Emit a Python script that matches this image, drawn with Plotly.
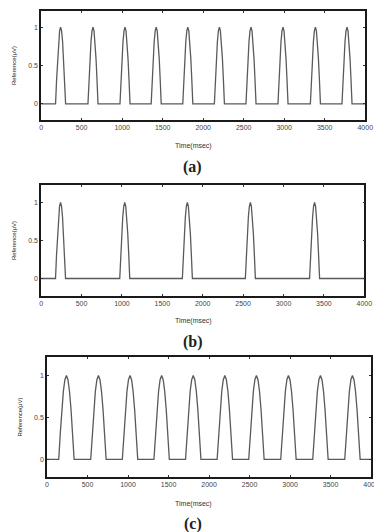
import plotly.graph_objects as go

# ---- data ----
peaks_a = [240, 640, 1035, 1420, 1810, 2200, 2590, 2985, 3385, 3775]
peaks_b = [240, 1035, 1810, 2590, 3385]
peaks_c = [240, 635, 1025, 1415, 1805, 2195, 2585, 2980, 3375, 3770]
half_width_a = 62
half_width_b = 62
half_width_c = 95
profile_offsets = [-1.0, -0.8, -0.6, -0.4, -0.2, 0.0, 0.2, 0.4, 0.6, 0.8, 1.0]
profile_values = [0.0, 0.31, 0.59, 0.81, 0.95, 1.0, 0.95, 0.81, 0.59, 0.31, 0.0]
x_ticks = [0, 500, 1000, 1500, 2000, 2500, 3000, 3500, 4000]
y_ticks = [0, 0.5, 1]
panel_labels = ["(a)", "(b)", "(c)"]
x_title = "Time(msec)"
y_title = "Reference(μV)"


def build(peaks, hw):
    xs, ys = [0], [0]
    for p in peaks:
        for o, v in zip(profile_offsets, profile_values):
            xs.append(p + o * hw)
            ys.append(v)
    xs.append(4000)
    ys.append(0)
    return xs, ys


# page body has an 8px margin, so the figure is drawn 8px in from the window corner
OFF = 8
W, H = 382 - OFF, 532 - OFF


def px(v):
    return v - OFF


panels = [
    dict(peaks=peaks_a, hw=half_width_a, l=40, r=373, t=11, b=120, yr=[-0.21, 1.21],
         xt_y=146, lab_y=167),
    dict(peaks=peaks_b, hw=half_width_b, l=40, r=372, t=185, b=296, yr=[-0.23, 1.23],
         xt_y=321, lab_y=342),
    dict(peaks=peaks_c, hw=half_width_c, l=46, r=379, t=357, b=477, yr=[-0.21, 1.22],
         xt_y=504, lab_y=524),
]

fig = go.Figure()
annotations = []
for i, p in enumerate(panels):
    n = "" if i == 0 else str(i + 1)
    xs, ys = build(p["peaks"], p["hw"])
    fig.add_trace(go.Scatter(x=xs, y=ys, mode="lines",
                             line=dict(color="#5a5a5a", width=1.3),
                             xaxis="x" + n, yaxis="y" + n, showlegend=False,
                             hoverinfo="skip"))
    axis_common = dict(showline=True, linecolor="#1a1a1a", linewidth=1.5, mirror="ticks",
                       ticks="inside", ticklen=2, tickwidth=1, tickcolor="#333",
                       showgrid=False, zeroline=False,
                       tickfont=dict(family="Liberation Sans", size=7, color="#444"))
    fig.layout["xaxis" + n] = dict(axis_common,
                                   domain=[px(p["l"]) / W, min(px(p["r"]) / W, 1.0)],
                                   range=[0, 4000], tickvals=x_ticks,
                                   anchor="y" + n)
    fig.layout["yaxis" + n] = dict(axis_common,
                                   domain=[1 - px(p["b"]) / H, 1 - px(p["t"]) / H],
                                   range=p["yr"], tickvals=y_ticks,
                                   ticktext=["0", "0.5", "1"], anchor="x" + n,
                                   title=dict(text=y_title, standoff=11,
                                              font=dict(family="Liberation Sans", size=6,
                                                        color="#222")))
    annotations.append(dict(text=x_title, x=px(197) / W, y=1 - px(p["xt_y"]) / H,
                            xref="paper", yref="paper", showarrow=False,
                            xanchor="center", yanchor="middle",
                            font=dict(family="Liberation Sans", size=7, color="#333")))
    annotations.append(dict(text="<b>" + panel_labels[i] + "</b>", x=px(196) / W,
                            y=1 - px(p["lab_y"]) / H, xref="paper", yref="paper",
                            showarrow=False, xanchor="center", yanchor="middle",
                            font=dict(family="Liberation Serif", size=16, color="#222")))

fig.update_layout(width=W, height=H, margin=dict(l=0, r=0, t=0, b=0),
                  paper_bgcolor="white", plot_bgcolor="white",
                  annotations=annotations)
fig.write_html("out.html")
